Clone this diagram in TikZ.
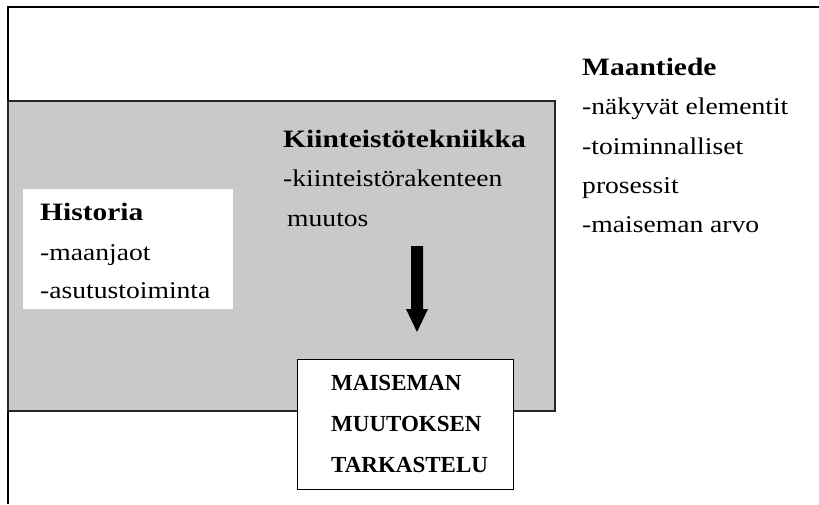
\documentclass[tikz,border=0pt]{standalone}
\usepackage{fontspec}
\setmainfont[FakeStretch=1.15]{Liberation Serif}
\newfontfamily\ttlfont[FakeStretch=1.18]{Liberation Serif}
\newfontfamily\capsfont{Liberation Serif}
\definecolor{boxgray}{RGB}{200,201,203}
\begin{document}
\begin{tikzpicture}[x=1pt,y=-1pt,
  txt/.style={anchor=base west,inner sep=0pt,font=\fontsize{24}{28}\selectfont},
  ttl/.style={anchor=base west,inner sep=0pt,font=\ttlfont\fontsize{25}{28}\selectfont\bfseries},
  capt/.style={anchor=base west,inner sep=0pt,font=\capsfont\fontsize{23}{26}\selectfont\bfseries}]
\useasboundingbox (0,0) rectangle (819,504);
% outer frame (right and bottom edges lie outside the picture)
\draw[line width=2pt] (8,504) -- (8,7) -- (819,7);
% gray area
\draw[fill=boxgray,draw=black!85,line width=1.2pt] (8,101) rectangle (555,411);
% Historia white box
\fill[white] (23,189) rectangle (233,309);
% result box
\draw[fill=white,line width=1pt] (297,359) rectangle (513,489);
% arrow
\fill[black] (411,246) -- (423,246) -- (423,309) -- (428,309) -- (417,332) -- (406,309) -- (411,309) -- cycle;
% texts
\node[ttl] (hist) at (40,220) {Historia};
\node[txt] (hist1) at (40,260) {-maanjaot};
\node[txt] (hist2) at (40,298) {-asutustoiminta};
\node[ttl] (kiin) at (283,147) {Kiinteistötekniikka};
\node[txt] (kiin1) at (283,186) {-kiinteistörakenteen};
\node[txt] (kiin2) at (287,226) {muutos};
\node[ttl] (maan) at (582,75) {Maantiede};
\node[txt] (maan1) at (582,114) {-näkyvät elementit};
\node[txt] (maan2) at (582,154) {-toiminnalliset};
\node[txt] (maan3) at (582,193) {prosessit};
\node[txt] (maan4) at (582,232) {-maiseman arvo};
\node[capt] (mai1) at (331,390) {MAISEMAN};
\node[capt] (mai2) at (331,431) {MUUTOKSEN};
\node[capt] (mai3) at (331,472) {TARKASTELU};
\end{tikzpicture}
\end{document}
